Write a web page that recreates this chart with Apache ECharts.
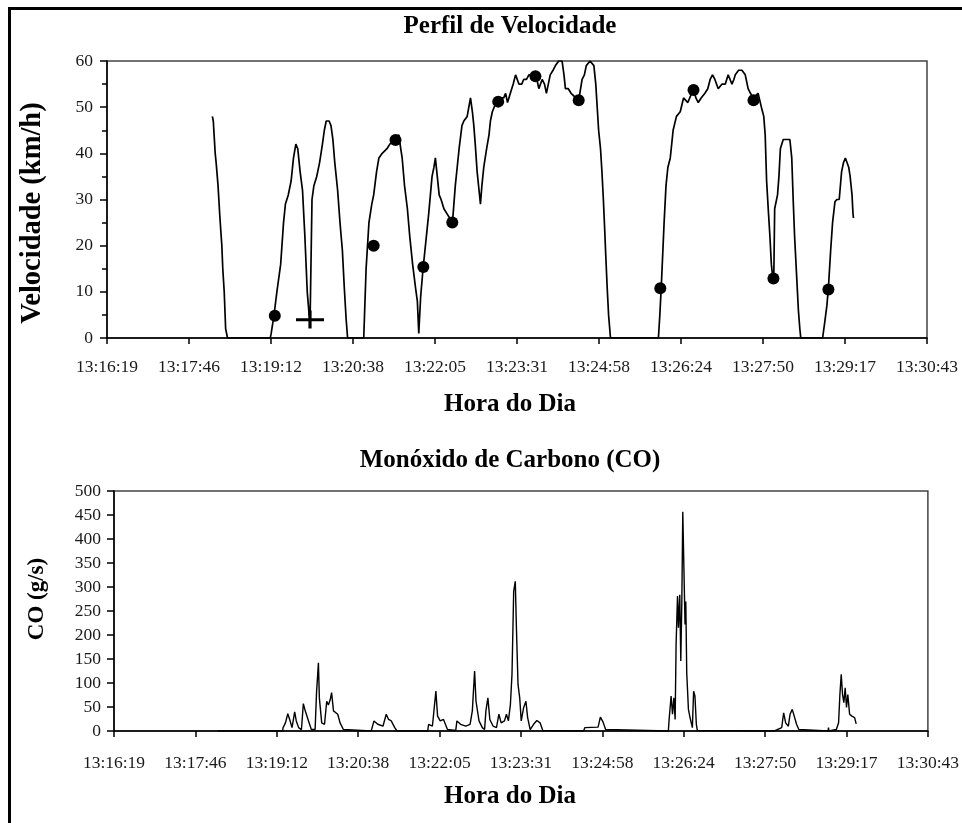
<!DOCTYPE html>
<html>
<head>
<meta charset="utf-8">
<script src="https://cdn.jsdelivr.net/npm/echarts@6/dist/echarts.min.js"></script>
<style>
html,body{margin:0;padding:0;background:#fff;}
#chart{width:962px;height:823px;}
</style>
</head>
<body>
<div id="chart"></div>
<script>
// Tick labels of the time axis (one every 0.001 day = 86.4 s, starting 13:16:19)
const timeLabels = ['13:16:19','13:17:46','13:19:12','13:20:38','13:22:05','13:23:31','13:24:58','13:26:24','13:27:50','13:29:17','13:30:43'];
const axisSpan = 864;      // seconds covered by the time axis
const tickStep = 86.4;     // seconds between time ticks

// Speed profile: elapsed seconds since 13:16:19 and speed (km/h)
const speedTime = [
  111,112,114,115,117,119,121,122,123.5,125,127,172,
  173,176,179,183,186,188,191,194,196.5,199,201,203.5,206,208.5,211,213,214,215.5,216,218,221,224,227,229,231,234,236,238,240,243,245.5,248,250,252,253.5,
  270.5,271,273,276,279,281,284,286.5,290,292,295,298,304,307.5,309.5,311,313.5,316.5,319,322,325,327,328.5,329.5,330.5,333,336,339,342.5,344.5,346,348,350,352,355,358,361,364,367,371,374,376,379.5,383,385,386.5,388,390,392,393.5,395,397,400,402.5,404,406,410,413,418,420,422,425,428,430.5,434,437,439,442,444.5,448,451.5,453,455,458.5,461,463,465,467,470,472.5,476,479.5,481.5,483,486,489,494,497,499,500.6,503,505,509,511,513,515,516.5,518,520,521.5,523,524.5,525.5,527,528.5,530.5,
  581,582.5,584,585.5,587,589,591,593.5,595,596.5,600,604,607.5,612,616,618,620.5,623,626,630,633,635.5,638,640.5,644,648,651.5,654.5,656.5,658.5,660.5,662,665.5,669,672.5,675.5,678,681,686,689.5,692,693.5,695,697,698.5,700,701.5,702.5,703.5,706.5,708,709.5,712.5,719.5,721.5,723,724.5,726,727.5,728.5,730,731,
  754,756,758.5,760,762.5,764.5,767,769,771.5,774,776,778,780,781.5,783,785,786,786.5
];
const speedValue = [
  48,47,40,38,33,26,20,15,10,2,0,0,
  1,5,10,16,25,29,31,34,39,42,41,36,32,22,10,5,4,4,30,33,35,38,42,45,47,47,46,43,38,32,25,19,11,4,0,
  0,0,15,25,29,31,36,39,40,40,41,42,43,44,41,39,33,28,22,16,11,8,1,1,9,15,21,27,35,37,39,35,31,30,28,27,26,25,33,41,46,47,48,52,49,46,42,36,32,29,33,37,41,44,47,49,51,52,52,53,51,53,55,57,55,55,56,56,57,57,57,56,54,56,55,53,55,57,58,59,60,60,57,54,54,53,52,51.5,54,56,57,59,60,60,59,55,50,45,41,36,30,23,18,11,5,0,
  0,5,11,18,25,33,37,39,42,45,48,49,52,51,53,54,52,51,52,53,54,56,57,56,54,55,55,57,56,55,56,57,58,58,57,54,53,52,53,50,48,44,34,27,22,16,13,12,28,31,35,41,43,43,39,30,22,16,10,6,2,0,
  0,3,7,10.5,19,25,29.5,30,30,36,38,39,39,37,35,31,27,26
];

// Measurement points drawn as dots on the speed profile
const dotTime  = [176.8, 281, 304, 333.3, 363.8, 412.2, 451.4, 497, 583, 618, 681.2, 702.2, 760.1];
const dotValue = [4.8, 20, 42.9, 15.4, 25, 51.2, 56.7, 51.5, 10.8, 53.7, 51.5, 12.9, 10.5];
// Point drawn as a cross
const crossTime  = [213.9];
const crossValue = [4];

// Carbon monoxide emission: elapsed seconds and CO (g/s)
const coTime = [
  110,179,179.5,182,184.5,186.5,189,191.8,193.5,196,199,201,203,206.5,209.5,213.5,215,217,218,220.5,223.5,225.8,227.6,229.5,231,233,235,237.5,240,243.5,244.5,
  273,273.5,276,280,285.5,289,291.5,294.3,298,300.5,
  333,334,338,341.7,343.5,346.3,349.8,354,362.8,364,368,373.4,378,380.4,382.8,384.3,387.5,391,393.4,394.8,396.9,399,402.5,406,408.6,411,414.5,416.6,418.7,420.8,422.5,424.3,426,427.1,428.9,430.7,432.3,434.9,437.3,439.1,441.8,445.4,448.9,452.3,455.2,456,
  498.5,499.8,513.9,516.3,519.1,521.9,523.4,
  588.5,589.3,591.4,592.9,594.3,595.7,596.7,598.2,599.2,600.6,601.7,602.8,603.8,605.2,606.2,607,608,609.8,611.5,614,615.3,616.7,618.2,619.3,620,
  701,701.8,708.8,710.9,713,715.9,717.7,720,722.1,724.6,727,728.1,
  758,758.5,759,766.8,769.2,770.6,772,773.4,774.8,776.2,777.6,779,780.9,783.3,786.2,787.9
];
const coValue = [
  0,0,7,17,36,24,7,40,21,7,3,57,42,21,3,3,80,142,69,17,14,62,54,65,80,42,42,35,17,3,0,
  0,3,21,14,10,35,24,21,7,0,
  0,14,10,83,31,21,24,3,1,21,14,10,14,42,125,62,21,7,3,42,69,24,10,7,35,17,21,35,21,55,118,291,312,222,97,69,21,49,62,28,3,14,22,17,1,0,
  0,7,8,29,19,3,0,
  0,24,73,35,69,24,180,281,215,284,146,270,457,457,222,270,121,45,28,7,83,73,14,1,0,
  0,3,7,38,17,10,35,45,49,14,3,0,
  0,7,0,3,17,76,118,76,59,90,49,76,35,31,28,15
];

const zip = (a, b) => a.map((t, i) => [t, b[i]]);

const serif = 'Liberation Serif, Times New Roman, serif';
const labelFmt = v => timeLabels[Math.round(v / tickStep)] || '';

function timeAxis(gridIndex, margin) {
  return {
    type: 'value', gridIndex, min: 0, max: axisSpan, interval: tickStep,
    axisLine: { show: true, onZero: false, lineStyle: { color: '#000', width: 1.5 } },
    axisTick: { show: true, inside: false, length: 6, lineStyle: { color: '#000', width: 1.5 } },
    axisLabel: { formatter: labelFmt, margin, fontFamily: serif, fontSize: 17.5, color: '#1a1a1a', showMinLabel: true, showMaxLabel: true },
    splitLine: { show: false }
  };
}

const option = {
  backgroundColor: '#fff',
  animation: false,
  grid: [
    { left: 107, top: 61, width: 820, height: 277, show: true, borderColor: '#444', borderWidth: 1.5, backgroundColor: 'transparent' },
    { left: 114, top: 491, width: 820, height: 240, show: true, borderColor: '#444', borderWidth: 1.5, backgroundColor: 'transparent' }
  ],
  xAxis: [ timeAxis(0, 20), timeAxis(1, 23) ],
  yAxis: [
    {
      type: 'value', gridIndex: 0, min: 0, max: 60, interval: 10,
      axisLine: { show: true, lineStyle: { color: '#000', width: 1.5 } },
      axisTick: { show: true, inside: false, length: 7, lineStyle: { color: '#000', width: 1.5 } },
      minorTick: { show: true, splitNumber: 2, length: 5, lineStyle: { color: '#000', width: 1.5 } },
      axisLabel: { margin: 14, fontFamily: serif, fontSize: 17.5, color: '#1a1a1a' },
      splitLine: { show: false }
    },
    {
      type: 'value', gridIndex: 1, min: 0, max: 500, interval: 50,
      axisLine: { show: true, lineStyle: { color: '#000', width: 1.5 } },
      axisTick: { show: true, inside: false, length: 7, lineStyle: { color: '#000', width: 1.5 } },
      axisLabel: { margin: 13, fontFamily: serif, fontSize: 17.5, color: '#1a1a1a' },
      splitLine: { show: false }
    }
  ],
  series: [
    {
      name: 'Velocidade', type: 'line', xAxisIndex: 0, yAxisIndex: 0,
      data: zip(speedTime, speedValue), showSymbol: false, symbol: 'none',
      lineStyle: { color: '#000', width: 1.7 }, z: 3
    },
    {
      name: 'Pontos', type: 'scatter', xAxisIndex: 0, yAxisIndex: 0,
      data: zip(dotTime, dotValue), symbol: 'circle', symbolSize: 12,
      itemStyle: { color: '#000', opacity: 1 }, z: 4
    },
    {
      name: 'Cruz', type: 'scatter', xAxisIndex: 0, yAxisIndex: 0,
      data: zip(crossTime, crossValue),
      symbol: 'path://M0,7.8 L28,7.8 L28,10.6 L0,10.6 Z M12.4,0 L15.6,0 L15.6,18 L12.4,18 Z',
      symbolSize: [28, 18], symbolKeepAspect: false,
      itemStyle: { color: '#000', opacity: 1 }, z: 4
    },
    {
      name: 'CO', type: 'line', xAxisIndex: 1, yAxisIndex: 1,
      data: zip(coTime, coValue), showSymbol: false, symbol: 'none',
      lineStyle: { color: '#000', width: 1.4 }, z: 3
    }
  ],
  graphic: [
    { type: 'polyline', silent: true, shape: { points: [[9.5, 823], [9.5, 8.5], [962, 8.5]] }, style: { stroke: '#000', lineWidth: 3, fill: null } },
    { type: 'text', x: 510, y: 27, style: { text: 'Perfil de Velocidade', font: 'bold 25px ' + serif, fill: '#000', align: 'center', verticalAlign: 'middle' } },
    { type: 'text', x: 510, y: 405, style: { text: 'Hora do Dia', font: 'bold 25px ' + serif, fill: '#000', align: 'center', verticalAlign: 'middle' } },
    { type: 'text', x: 510, y: 461, style: { text: 'Monóxido de Carbono (CO)', font: 'bold 25px ' + serif, fill: '#000', align: 'center', verticalAlign: 'middle' } },
    { type: 'text', x: 510, y: 797, style: { text: 'Hora do Dia', font: 'bold 25px ' + serif, fill: '#000', align: 'center', verticalAlign: 'middle' } },
    { type: 'text', x: 33, y: 213, rotation: Math.PI / 2, style: { text: 'Velocidade (km/h)', font: 'bold 28.5px ' + serif, fill: '#000', align: 'center', verticalAlign: 'middle' } },
    { type: 'text', x: 37, y: 599, rotation: Math.PI / 2, style: { text: 'CO (g/s)', font: 'bold 23px ' + serif, fill: '#000', align: 'center', verticalAlign: 'middle' } }
  ]
};

const chart = echarts.init(document.getElementById('chart'), null, { renderer: 'canvas' });
chart.setOption(option);
</script>
</body>
</html>
